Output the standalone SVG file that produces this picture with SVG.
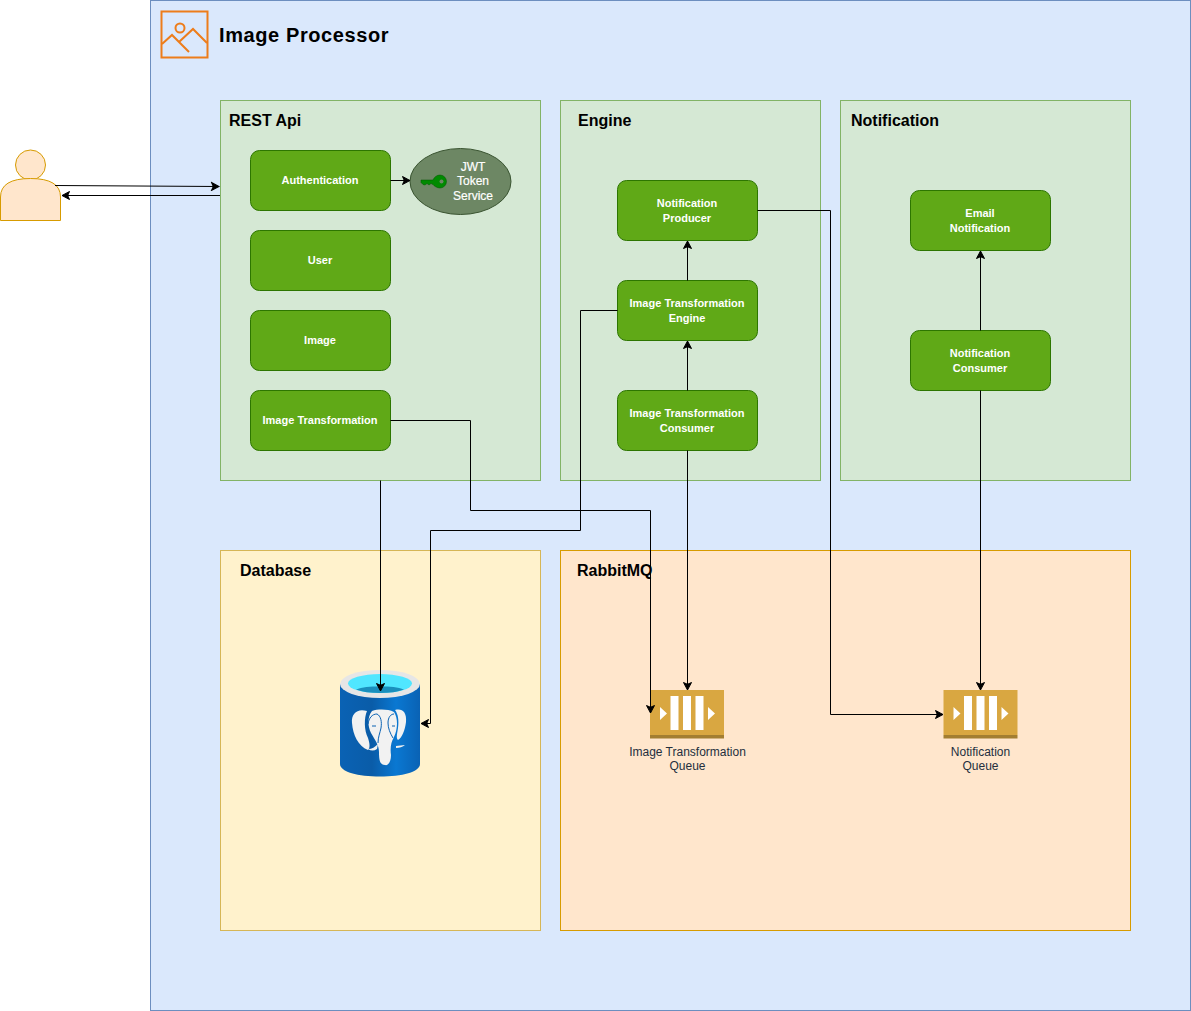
<svg xmlns="http://www.w3.org/2000/svg" width="1191" height="1011" viewBox="0 0 1191 1011">
<style>
text{font-family:"Liberation Sans",Arial,sans-serif}
.g{fill:#d5e8d4;stroke:#82b366}
.n{fill:#60a917;stroke:#2d7600}
.nt{font-size:11px;font-weight:bold;fill:#fff;text-anchor:middle}
.jt{font-size:12px;fill:#fff;text-anchor:middle;stroke:#fff;stroke-width:.2}
.t{font-size:16px;font-weight:bold;fill:#000}
.q{font-size:12px;fill:#232f3e;text-anchor:middle}
.c{fill:none;stroke:#000;stroke-width:1;marker-end:url(#a)}
.qb{fill:#d9a741}
.qw{fill:#fff}
</style>
<defs>
<marker id="a" markerUnits="userSpaceOnUse" markerWidth="10" markerHeight="10" refX="8.500" refY="5" orient="auto"><path d="M1 1L8.500 5L1 9L2.800 5Z" fill="#000" stroke="#000"/></marker>
<linearGradient id="pg" x1="0" x2="1" y1="0" y2="0"><stop offset="0" stop-color="#0a62b4"/><stop offset=".4" stop-color="#0a5ca8"/><stop offset=".7" stop-color="#0a78d2"/><stop offset="1" stop-color="#0a62b4"/></linearGradient>
</defs>
<rect id="processor" x="150.500" y="0.500" width="1040" height="1010" fill="#dae8fc" stroke="#6c8ebf"/>
<g id="processor-title">
<rect x="161.500" y="11.500" width="46" height="46" fill="none" stroke="#ed7d1b" stroke-width="2"/>
<circle cx="180" cy="28" r="4.500" fill="none" stroke="#ed7d1b" stroke-width="2"/>
<path d="M162 44L172 35L189 52M179 42L193 29L207 43" fill="none" stroke="#ed7d1b" stroke-width="2"/>
<text x="219" y="42" font-size="20" font-weight="bold" fill="#000" letter-spacing=".6">Image Processor</text>
</g>
<g id="rest"><rect class="g" x="220.500" y="100.500" width="320" height="380"/><text class="t" x="229" y="126">REST Api</text></g>
<g id="engine"><rect class="g" x="560.500" y="100.500" width="260" height="380"/><text class="t" x="578" y="126">Engine</text></g>
<g id="notification"><rect class="g" x="840.500" y="100.500" width="290" height="380"/><text class="t" x="851" y="126">Notification</text></g>
<g id="database"><rect x="220.500" y="550.500" width="320" height="380" fill="#fff2cc" stroke="#d6b656"/><text class="t" x="240" y="576">Database</text></g>
<g id="rabbitmq"><rect x="560.500" y="550.500" width="570" height="380" fill="#ffe6cc" stroke="#d79b00"/><text class="t" x="577" y="576">RabbitMQ</text></g>
<g id="user-actor">
<circle cx="30.500" cy="165" r="15" fill="#ffe6cc" stroke="#d79b00"/>
<path d="M0.500 220.500V197Q0.500 178.500 30.500 178.500Q60.500 178.500 60.500 197V220.500Z" fill="#ffe6cc" stroke="#d79b00"/>
</g>
<g id="authentication"><rect class="n" x="250.500" y="150.500" width="140" height="60" rx="9"/><text class="nt" x="320" y="184">Authentication</text></g>
<g id="user"><rect class="n" x="250.500" y="230.500" width="140" height="60" rx="9"/><text class="nt" x="320" y="264">User</text></g>
<g id="image"><rect class="n" x="250.500" y="310.500" width="140" height="60" rx="9"/><text class="nt" x="320" y="344">Image</text></g>
<g id="image-transformation"><rect class="n" x="250.500" y="390.500" width="140" height="60" rx="9"/><text class="nt" x="320" y="424">Image Transformation</text></g>
<g id="jwt">
<ellipse cx="460.500" cy="181.500" rx="50.500" ry="33" fill="#6d8764" stroke="#3a5431"/>
<path d="M421 180H433C434 177 437 175 440 175A6.500 6.500 0 1 1 440 188C437 188 434 186 433 184.500L431 183.500L429 185L427 183.500L425 185L423 184.500L421 182.500Z" fill="#008a00" stroke="#005700" stroke-width=".5"/>
<circle cx="441.500" cy="181.500" r="2" fill="#6d8764"/>
<text class="jt" x="473" y="171">JWT</text>
<text class="jt" x="473" y="185">Token</text>
<text class="jt" x="473" y="200">Service</text>
</g>
<g id="notification-producer"><rect class="n" x="617.500" y="180.500" width="140" height="60" rx="9"/><text class="nt" x="687" y="207">Notification</text><text class="nt" x="687" y="222">Producer</text></g>
<g id="transformation-engine"><rect class="n" x="617.500" y="280.500" width="140" height="60" rx="9"/><text class="nt" x="687" y="307">Image Transformation</text><text class="nt" x="687" y="322">Engine</text></g>
<g id="transformation-consumer"><rect class="n" x="617.500" y="390.500" width="140" height="60" rx="9"/><text class="nt" x="687" y="417">Image Transformation</text><text class="nt" x="687" y="432">Consumer</text></g>
<g id="email-notification"><rect class="n" x="910.500" y="190.500" width="140" height="60" rx="9"/><text class="nt" x="980" y="217">Email</text><text class="nt" x="980" y="232">Notification</text></g>
<g id="notification-consumer"><rect class="n" x="910.500" y="330.500" width="140" height="60" rx="9"/><text class="nt" x="980" y="357">Notification</text><text class="nt" x="980" y="372">Consumer</text></g>
<g id="postgres">
<path d="M340 684V764C340 772 358 776.500 380 776.500S420 772 420 764V684Z" fill="url(#pg)"/>
<ellipse cx="380" cy="684" rx="40" ry="14" fill="#e6e6e6"/>
<ellipse cx="380" cy="683.500" rx="32" ry="9.500" fill="#50e6ff"/>
<path d="M356 689.500C362 687 370 686.500 380 686.500S398 687 404 689.500C398 692 390 693 380 693S362 692 356 689.500Z" fill="#1a8fbd"/>
<g fill="#f2f2f2">
<path d="M372 711C378 709 388 709 394 712C398 718 398 728 394 737C391 742 390 748 391 755C391 762 388 766 385 765C380 765 379 760 379 752C379 745 375 740 371 733C367 725 368 716 372 711Z"/>
<path d="M367 711C358 708 351 713 352 723C353 735 358 746 368 750C370 748 370 744 368 738C364 730 364 718 367 711Z"/>
<path d="M395 710C402 708 407 712 406 722C405 730 402 738 398 740C396 738 397 734 398 728C399 720 398 714 395 710Z"/>
<path d="M368 749C372 749 375 747 378 744L377 749C374 751 371 751 368 749ZM396 746L405 745C403 747 399 748 396 748Z"/>
</g>
<path d="M368 724C369 718 372 714 377 714C381 716 382 722 381 728C380 733 378 737 378 743M393 738C390 733 388 728 388 723C388 717 391 714 394 714" fill="none" stroke="#0a62b4" stroke-width="1"/>
<path d="M372 726H376M392 726H395" stroke="#0a62b4" stroke-width="1"/>
</g>
<g id="transformation-queue">
<rect class="qb" x="650" y="690" width="74" height="45"/><rect x="650" y="735" width="74" height="3.500" fill="#a37e31"/>
<path class="qw" d="M660 707L667 713.500L660 720ZM708 707L715 713.500L708 720Z"/>
<rect class="qw" x="670.500" y="696" width="8" height="34"/><rect class="qw" x="683" y="696" width="8" height="34"/><rect class="qw" x="695.500" y="696" width="8" height="34"/>
<text class="q" x="687.500" y="756">Image Transformation</text><text class="q" x="687.500" y="770">Queue</text>
</g>
<g id="notification-queue">
<rect class="qb" x="943.500" y="690" width="74" height="45"/><rect x="943.500" y="735" width="74" height="3.500" fill="#a37e31"/>
<path class="qw" d="M953.500 707L960.500 713.500L953.500 720ZM1001.500 707L1008.500 713.500L1001.500 720Z"/>
<rect class="qw" x="964" y="696" width="8" height="34"/><rect class="qw" x="976.500" y="696" width="8" height="34"/><rect class="qw" x="989" y="696" width="8" height="34"/>
<text class="q" x="980.500" y="756">Notification</text><text class="q" x="980.500" y="770">Queue</text>
</g>
<g id="connectors">
<path class="c" d="M55 185.500L219 186.500"/>
<path class="c" d="M220 195.500H62"/>
<path class="c" d="M390.500 180.500H410"/>
<path class="c" d="M390.500 420.500H470.500V510.500H650.500V713"/>
<path class="c" d="M380.500 480.500V691"/>
<path class="c" d="M617.500 310.500H580.500V530.500H430.500V723.500H421"/>
<path class="c" d="M687.500 390.500V341"/>
<path class="c" d="M687.500 450.500V690"/>
<path class="c" d="M687.500 280.500V241"/>
<path class="c" d="M757.500 210.500H830.500V714.500H943"/>
<path class="c" d="M980.500 330.500V251"/>
<path class="c" d="M980.500 390.500V690"/>
</g>
</svg>
